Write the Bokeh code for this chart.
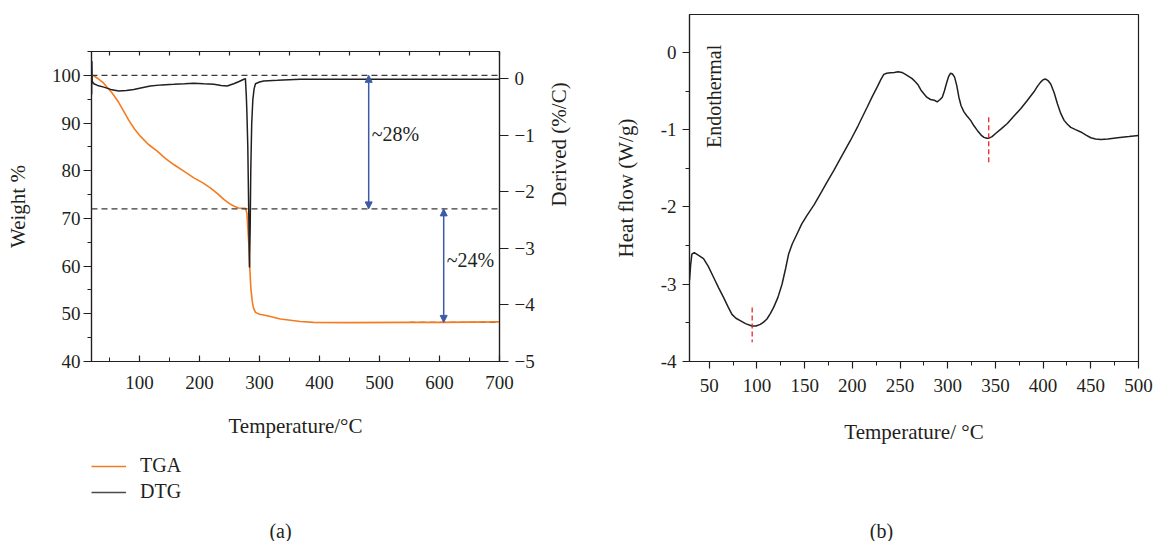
import math
from bokeh.plotting import figure
from bokeh.layouts import column, row
from bokeh.models import (Range1d, LinearAxis, SingleIntervalTicker, Span, Arrow,
                          NormalHead, Label, Legend, LegendItem, CustomJSTickFormatter)
from bokeh.embed import file_html
from bokeh.resources import INLINE

FONT = "Liberation Serif"
INK = "#231f20"
ORANGE = "#f47b20"
BLUE = "#3b5ba9"
RED = "#e8262a"

# ---------------- (a) TGA / DTG ----------------
tga_temp = [21, 25, 30, 35, 40, 46, 55, 65, 75, 82, 92, 101.7, 115, 129.5, 143, 157, 175,
            190.5, 205, 218, 230, 240.5, 250, 257, 265, 276.7, 279, 280.5, 282.5, 283.8,
            285.5, 287.8, 290, 293.3, 300, 313, 335, 368, 390, 450, 550, 600, 700]
tga_weight = [100.0, 99.8, 99.4, 98.9, 98.4, 97.5, 96.2, 94.4, 92.2, 90.6, 88.7, 87.2, 85.5,
              84.1, 82.6, 81.3, 79.8, 78.5, 77.5, 76.4, 75.2, 74.0, 73.1, 72.6, 72.2, 72.1,
              71.2, 68.0, 64.0, 59.7, 55.5, 52.7, 51.2, 50.3, 49.9, 49.6, 48.9, 48.4, 48.2,
              48.15, 48.2, 48.2, 48.3]

dtg_temp = [20.2, 20.6, 21.2, 23.9, 30, 40.5, 52, 65.5, 78, 90.5, 104, 118, 137, 157, 175,
            190.5, 207, 224, 236, 246, 257, 266, 274, 276.5, 278, 279, 280.5, 282, 283.3,
            284.5, 285.5, 287, 288.9, 291, 293.3, 300, 307, 330, 368, 450, 550, 700]
dtg_rate = [-0.28, 0.31, -0.05, -0.09, -0.12, -0.15, -0.19, -0.22, -0.21, -0.19, -0.16,
            -0.13, -0.11, -0.10, -0.09, -0.08, -0.09, -0.10, -0.12, -0.13, -0.09, -0.05,
            -0.01, 0.0, -0.3, -0.6, -1.2, -2.3, -3.34, -2.6, -1.6, -0.8, -0.37, -0.18,
            -0.09, -0.06, -0.04, -0.03, -0.01, -0.01, -0.01, -0.01]

weight_levels = [100, 72, 48.2]
residue_span = [550, 700]
arrow_temps = [482, 607]
step_labels = ["~28%", "~24%"]
step_label_pos = [(487, 87.8), (612, 61.2)]

# ---------------- (b) DSC ----------------
dsc_temp = [29.3, 30.5, 31.8, 34.3, 38, 44, 49, 54.5, 60, 65, 70, 73.8, 78, 82.5, 88, 94.8,
            99, 103.5, 107, 110.5, 114, 117.5, 122, 126.3, 130, 133.2, 137, 142, 147, 152.5,
            160, 166.5, 173, 180.5, 189, 198, 206, 215.5, 221, 226, 230, 233, 236, 240, 244,
            248, 252, 255.7, 259, 262.7, 266, 268.6, 272, 275, 278, 282, 286, 289, 292,
            294.3, 296.5, 298.5, 301, 303, 305, 307.2, 309.5, 311.7, 314, 317, 320, 324,
            327.5, 331, 335, 338, 341, 343.2, 346.5, 350.2, 356, 362.5, 369, 376.5, 383,
            390.4, 394, 397.4, 400, 402.7, 405.5, 408, 411.5, 415, 418.5, 422, 425.5, 429,
            434, 439.5, 445, 450, 455, 460.4, 468, 478, 490, 500]
dsc_flow = [-2.95, -2.75, -2.61, -2.59, -2.62, -2.67, -2.77, -2.91, -3.05, -3.17, -3.30,
            -3.39, -3.44, -3.47, -3.51, -3.54, -3.54, -3.52, -3.49, -3.45, -3.38, -3.30,
            -3.17, -3.00, -2.80, -2.61, -2.48, -2.35, -2.22, -2.11, -1.97, -1.83, -1.69,
            -1.53, -1.34, -1.14, -0.95, -0.71, -0.57, -0.45, -0.35, -0.285, -0.27, -0.265,
            -0.26, -0.25, -0.26, -0.285, -0.31, -0.34, -0.38, -0.415, -0.49, -0.535, -0.58,
            -0.61, -0.62, -0.64, -0.61, -0.58, -0.50, -0.41, -0.31, -0.27, -0.28, -0.32,
            -0.43, -0.58, -0.69, -0.77, -0.82, -0.88, -0.95, -1.01, -1.07, -1.10, -1.11,
            -1.11, -1.09, -1.05, -0.99, -0.92, -0.83, -0.73, -0.63, -0.51, -0.44, -0.385,
            -0.355, -0.345, -0.37, -0.41, -0.52, -0.665, -0.79, -0.88, -0.93, -0.97, -1.00,
            -1.03, -1.07, -1.105, -1.12, -1.127, -1.12, -1.105, -1.09, -1.075]

peak_temps = [95, 343]
peak_mark_top = [-3.30, -0.84]
peak_mark_bottom = [-3.75, -1.46]


def style_axis(ax, tick_in, tick_out, minor_in, minor_out, label_standoff, title_standoff):
    ax.axis_line_color = INK
    ax.axis_line_width = 1.2
    ax.major_tick_line_color = INK
    ax.minor_tick_line_color = INK
    ax.major_tick_line_width = 1.2
    ax.minor_tick_line_width = 1.0
    ax.major_tick_in = tick_in
    ax.major_tick_out = tick_out
    ax.minor_tick_in = minor_in
    ax.minor_tick_out = minor_out
    ax.major_label_text_font = FONT
    ax.major_label_text_font_size = "19px"
    ax.major_label_text_color = INK
    ax.major_label_standoff = label_standoff
    ax.axis_label_text_font = FONT
    ax.axis_label_text_font_size = "21px"
    ax.axis_label_text_font_style = "normal"
    ax.axis_label_text_color = INK
    ax.axis_label_standoff = title_standoff


def free_frame(p):
    # keep each panel's frame where its own borders put it
    if "frame_align" in p.properties():
        p.frame_align = False


# ---- panel (a)
pa = figure(width=590, height=450, x_range=Range1d(20, 700), y_range=Range1d(40, 105),
            output_backend="svg", toolbar_location=None,
            min_border_left=91, min_border_right=91, min_border_top=51, min_border_bottom=89)
free_frame(pa)
pa.extra_y_ranges = {"dtg": Range1d(-5, 0.48)}
pa.grid.visible = False
pa.outline_line_color = INK
pa.outline_line_width = 1.2

xa = pa.xaxis[0]
xa.ticker = SingleIntervalTicker(interval=100, num_minor_ticks=2)
xa.axis_label = "Temperature/°C"
style_axis(xa, 6, 0, 4, 0, 14, 22)

ya = pa.yaxis[0]
ya.ticker = SingleIntervalTicker(interval=10, num_minor_ticks=2)
ya.axis_label = "Weight %"
style_axis(ya, 0, 8, 0, 4, 3, 19)

ra = LinearAxis(y_range_name="dtg", ticker=SingleIntervalTicker(interval=1, num_minor_ticks=0),
                axis_label="Derived (%/C)")
ra.major_label_overrides = {0: "0", -1: "\u22121", -2: "\u22122", -3: "\u22123",
                            -4: "\u22124", -5: "\u22125"}
style_axis(ra, 0, 9, 0, 0, 6, 21)
if "axis_label_orientation" in LinearAxis.properties():
    ra.axis_label_orientation = math.pi / 2
pa.add_layout(ra, "right")

ta = LinearAxis(ticker=SingleIntervalTicker(interval=50, num_minor_ticks=0),
                formatter=CustomJSTickFormatter(code="return ''"))
style_axis(ta, 4, 0, 0, 0, 0, 0)
pa.add_layout(ta, "above")

for lvl in weight_levels[:2]:
    pa.add_layout(Span(location=lvl, dimension="width", line_color="#3a3a3a",
                       line_dash="6 4", line_width=1.2))
pa.line(residue_span, [weight_levels[2]] * 2, line_color="#3a3a3a", line_dash="6 4",
        line_width=1.2)

pa.line(tga_temp, tga_weight, line_color=ORANGE, line_width=1.6)
pa.line(dtg_temp, dtg_rate, y_range_name="dtg", line_color=INK, line_width=1.5)

for i, t in enumerate(arrow_temps):
    pa.add_layout(Arrow(x_start=t, y_start=weight_levels[i], x_end=t, y_end=weight_levels[i + 1],
                        line_color=BLUE, line_width=1.5,
                        start=NormalHead(size=7, fill_color=BLUE, line_color=BLUE),
                        end=NormalHead(size=7, fill_color=BLUE, line_color=BLUE)))
for txt, (lx, ly) in zip(step_labels, step_label_pos):
    pa.add_layout(Label(x=lx, y=ly, text=txt, text_font=FONT, text_font_size="20px",
                        text_color=INK, text_baseline="middle", text_align="left"))

# ---- panel (b)
pb = figure(width=564, height=450, x_range=Range1d(29.3, 500), y_range=Range1d(-4, 0.49),
            output_backend="svg", toolbar_location=None,
            min_border_left=99, min_border_right=16, min_border_top=14, min_border_bottom=89)
free_frame(pb)
pb.grid.visible = False
pb.outline_line_color = INK
pb.outline_line_width = 1.2

xb = pb.xaxis[0]
xb.ticker = SingleIntervalTicker(interval=50, num_minor_ticks=2)
xb.axis_label = "Temperature/ °C"
style_axis(xb, 0, 7, 0, 4, 10, 25)

yb = pb.yaxis[0]
yb.ticker = SingleIntervalTicker(interval=1, num_minor_ticks=2)
yb.axis_label = "Heat flow (W/g)"
yb.major_label_overrides = {0: "0", -1: "-1", -2: "-2", -3: "-3", -4: "-4"}
style_axis(yb, 0, 7, 0, 4, 6, 20)

pb.line(dsc_temp, dsc_flow, line_color=INK, line_width=1.5)
pb.segment(x0=peak_temps, y0=peak_mark_top, x1=peak_temps, y1=peak_mark_bottom,
           line_color=RED, line_dash="5 3", line_width=1.3)
pb.add_layout(Label(x=55.5, y=-0.57, text="Endothermal", angle=math.pi / 2, text_font=FONT,
                    text_font_size="20px", text_color=INK, text_align="center",
                    text_baseline="middle"))

# ---- legend and panel captions
strip = figure(width=1154, height=91, x_range=Range1d(0, 1154), y_range=Range1d(541, 450),
               output_backend="svg", toolbar_location=None, x_axis_type=None,
               y_axis_type=None, min_border=0, outline_line_color=None)
free_frame(strip)
strip.grid.visible = False
# off-canvas stand-ins that only carry the legend line styles
r_tga = strip.line([-20, -10], [600, 600], line_color=ORANGE, line_width=1.6)
r_dtg = strip.line([-20, -10], [600, 600], line_color="#4a4a4a", line_width=1.6)
legend = Legend(items=[LegendItem(label="TGA", renderers=[r_tga]),
                       LegendItem(label="DTG", renderers=[r_dtg])],
                location=(91, 38), padding=0, margin=0, spacing=3, glyph_width=35,
                glyph_height=20, label_height=20, label_standoff=14,
                label_text_font=FONT, label_text_font_size="20px", label_text_color=INK,
                border_line_alpha=0, background_fill_alpha=0)
strip.add_layout(legend)
for cap, cx in (("(a)", 280), ("(b)", 881)):
    strip.add_layout(Label(x=cx, y=530, text=cap, text_font=FONT, text_font_size="20px",
                           text_color=INK, text_align="center", text_baseline="middle"))

layout = column(row(pa, pb), strip)
open("out.html", "w").write(file_html(layout, INLINE))
